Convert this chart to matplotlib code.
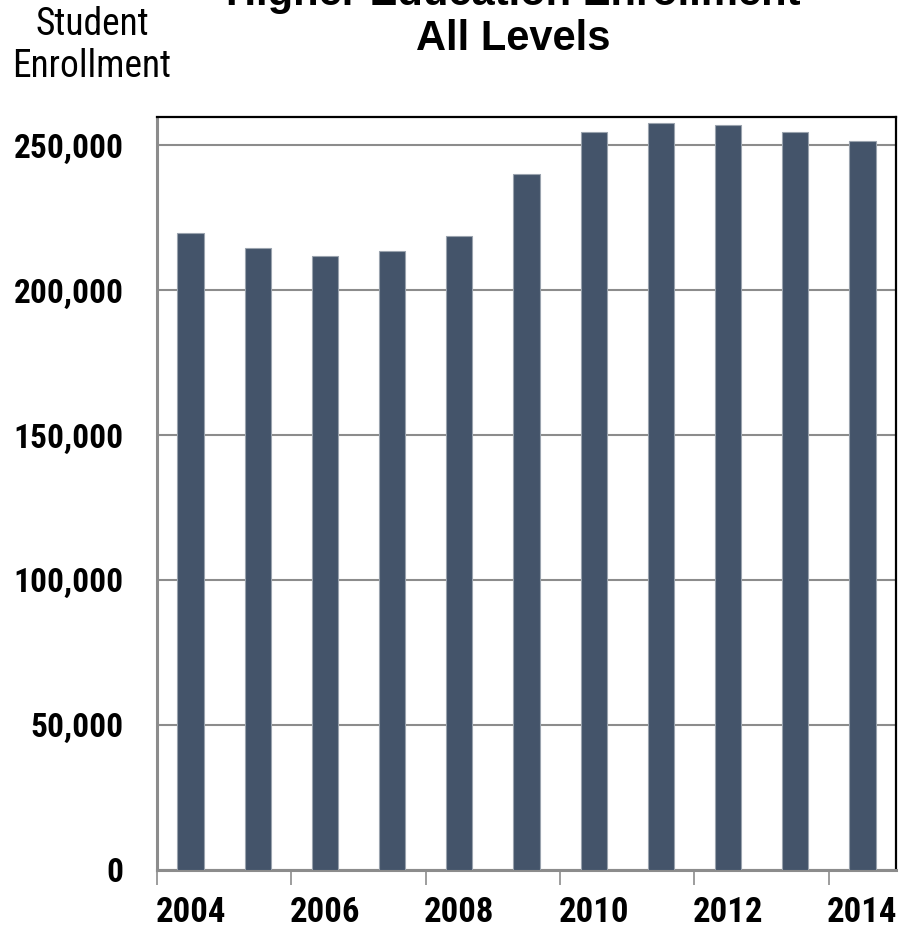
import matplotlib
matplotlib.use("Agg")
import matplotlib.pyplot as plt
from matplotlib import font_manager as fm
from matplotlib.ticker import FixedLocator, FuncFormatter
import numpy as np

years = [2004, 2005, 2006, 2007, 2008, 2009, 2010, 2011, 2012, 2013, 2014]
enrollment = [219700, 214600, 211900, 213400, 218600, 240300, 254600, 257800, 256900, 254800, 251600]
title_lines = ["Higher Education Enrollment", "All Levels"]
ylabel_lines = ["Student", "Enrollment"]
yticks = [0, 50000, 100000, 150000, 200000, 250000]


def pick(names):
    for n in names:
        try:
            fm.findfont(fm.FontProperties(family=n), fallback_to_default=False)
            return n
        except Exception:
            pass
    return "DejaVu Sans"


narrow = pick(["Liberation Sans Narrow", "Arial Narrow", "Roboto Condensed", "Liberation Sans"])
wide = pick(["Liberation Sans", "Arial", "DejaVu Sans"])

W, H = 913, 935
fig = plt.figure(figsize=(W / 100, H / 100), dpi=100)
ax = fig.add_axes([157 / W, 1 - 869.5 / H, (896 - 157) / W, (869.5 - 116.5) / H])

x = np.arange(len(years))
ax.bar(x, enrollment, width=0.39, color="#44546A", edgecolor="#9aa3ae", linewidth=0.8, zorder=3)

ax.set_xlim(-0.5, len(years) - 0.5)
ax.set_ylim(0, 260000)

# y axis
ax.set_yticks(yticks)
ax.yaxis.set_major_formatter(FuncFormatter(lambda v, p: f"{int(v):,}"))
ax.tick_params(axis="y", length=0, pad=24)
for lab in ax.get_yticklabels():
    lab.set_fontfamily(narrow)
    lab.set_fontweight("bold")
    lab.set_fontsize(24)
ax.yaxis.grid(True, color="#8c8c8c", linewidth=1.5, zorder=1)

# x axis: ticks at boundaries every 2 categories, labels at even years
ax.xaxis.set_major_locator(FixedLocator(np.arange(-0.5, len(years) - 0.5, 2)))
ax.xaxis.set_major_formatter(FuncFormatter(lambda v, p: ""))
ax.tick_params(axis="x", which="major", length=11, width=1.2, color="#8c8c8c")
ax.set_xticks(x[::2], minor=True)
ax.set_xticklabels([str(y) for y in years[::2]], minor=True)
ax.tick_params(axis="x", which="minor", length=0, pad=19)
for lab in ax.get_xticklabels(minor=True):
    lab.set_fontfamily(narrow)
    lab.set_fontweight("bold")
    lab.set_fontsize(25)

for side in ["left", "bottom"]:
    ax.spines[side].set_color("#8c8c8c")
    ax.spines[side].set_linewidth(2.2)
for side in ["top", "right"]:
    ax.spines[side].set_color("black")
    ax.spines[side].set_linewidth(1.6)

# title (two lines, first partially clipped at top)
fig.text(513 / W, 1 - 5 / H, title_lines[0], ha="center", va="baseline",
         fontfamily=wide, fontweight="bold", fontsize=30)
fig.text(513 / W, 1 - 50 / H, title_lines[1], ha="center", va="baseline",
         fontfamily=wide, fontweight="bold", fontsize=30)

# y-axis label at top-left
fig.text(92 / W, 1 - 35 / H, ylabel_lines[0], ha="center", va="baseline",
         fontfamily=narrow, fontsize=27)
fig.text(92 / W, 1 - 77 / H, ylabel_lines[1], ha="center", va="baseline",
         fontfamily=narrow, fontsize=27)

fig.savefig("out.png", dpi=100, facecolor="white")
